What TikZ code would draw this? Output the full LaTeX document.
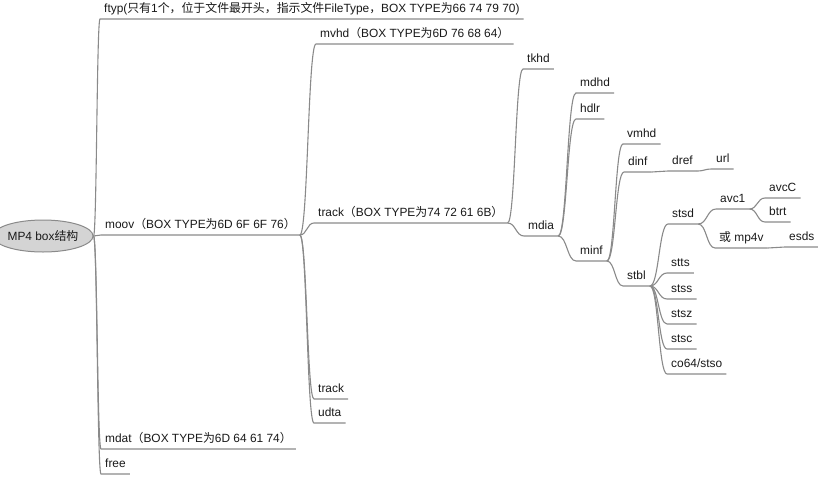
\documentclass[tikz,border=0pt]{standalone}
\usepackage{fontspec}
\setmainfont{Liberation Sans}
\newfontfamily\cjk{Noto Sans CJK SC}
\usetikzlibrary{shapes}
\usetikzlibrary{calc}
\newcommand{\zh}[1]{{\cjk #1}}
\definecolor{linegray}{RGB}{138,138,138}
\definecolor{topicgray}{RGB}{212,212,212}

\begin{document}
\begin{tikzpicture}[x=1pt, y=-1pt]

\tikzstyle{box}=[anchor=south west, inner xsep=4pt, inner ysep=3.5pt, text height=9pt, text depth=3pt, font=\fontsize{11.9}{14}\selectfont, text=black!90]
\tikzstyle{topic}=[ellipse, draw=linegray, line width=1pt, fill=topicgray, minimum width=81pt, minimum height=32pt, inner sep=0pt, font=\fontsize{11.9}{14}\selectfont, text=black!90]

\tikzstyle{branch}=[draw=linegray, line width=1.1pt, to path={(\tikztostart.south east) .. controls ($(\tikztostart.south east)!0.5!(\tikztotarget.south west |- \tikztostart.south east)$) and ($(\tikztotarget.south west)!0.5!(\tikztostart.south east |- \tikztotarget.south west)$) .. (\tikztotarget.south west) -- (\tikztotarget.south east)}]
\tikzstyle{topicbranch}=[draw=linegray, line width=1.1pt, to path={(\tikztostart.east) .. controls ($(\tikztostart.east)!0.5!(\tikztotarget.south west |- \tikztostart.east)$) and ($(\tikztotarget.south west)!0.5!(\tikztostart.east |- \tikztotarget.south west)$) .. (\tikztotarget.south west) -- (\tikztotarget.south east)}]

\useasboundingbox (0,0) rectangle (818,477);

\node[topic] (mp4) at (43,236) {MP4 box\zh{结构}};

\node[box] (ftyp) at (100,19) {ftyp(\zh{只有}1\zh{个，位于文件最开头，指示文件}FileType\zh{，}BOX TYPE\zh{为}66 74 79 70)};
\node[box] (moov) at (101,235) {moov\zh{（}BOX TYPE\zh{为}6D 6F 6F 76\zh{）}};
\node[box] (mdat) at (101,449) {mdat\zh{（}BOX TYPE\zh{为}6D 64 61 74\zh{）}};
\node[box] (free) at (101,474) {free};

\node[box] (mvhd) at (316,44) {mvhd\zh{（}BOX TYPE\zh{为}6D 76 68 64\zh{）}};
\node[box] (trak) at (314,223) {track\zh{（}BOX TYPE\zh{为}74 72 61 6B\zh{）}};
\node[box] (track) at (314,399) {track};
\node[box] (udta) at (314,423) {udta};

\node[box] (tkhd) at (523,69) {tkhd};
\node[box] (mdia) at (524,236) {mdia};

\node[box] (mdhd) at (576,93) {mdhd};
\node[box] (hdlr) at (576,119) {hdlr};
\node[box] (minf) at (576,261) {minf};

\node[box] (vmhd) at (623,144) {vmhd};
\node[box] (dinf) at (624,172) {dinf};
\node[box] (stbl) at (623,286) {stbl};

\node[box] (dref) at (668,171) {dref};
\node[box] (url) at (712,169) {url};

\node[box] (stsd) at (668,224) {stsd};
\node[box] (stts) at (667,273) {stts};
\node[box] (stss) at (667,299) {stss};
\node[box] (stsz) at (667,324) {stsz};
\node[box] (stsc) at (667,349) {stsc};
\node[box] (co64) at (667,374) {co64/stso};

\node[box] (avc1) at (716,209) {avc1};
\node[box] (mp4v) at (715,248) {\zh{或} mp4v};
\node[box] (avcC) at (765,198) {avcC};
\node[box] (btrt) at (765,222) {btrt};
\node[box] (esds) at (785,247) {esds};


\path (mp4) [topicbranch] edge (ftyp) edge (moov) edge (mdat) edge (free);

\path (moov) [branch] edge (mvhd) edge (trak) edge (track) edge (udta);
\path (trak) [branch] edge (tkhd) edge (mdia);
\path (mdia) [branch] edge (mdhd) edge (hdlr) edge (minf);
\path (minf) [branch] edge (vmhd) edge (dinf) edge (stbl);
\path (dinf) [branch] edge (dref);
\path (dref) [branch] edge (url);
\path (stbl) [branch] edge (stsd) edge (stts) edge (stss) edge (stsz) edge (stsc) edge (co64);
\path (stsd) [branch] edge (avc1) edge (mp4v);
\path (avc1) [branch] edge (avcC) edge (btrt);
\path (mp4v) [branch] edge (esds);

\end{tikzpicture}
\end{document}
